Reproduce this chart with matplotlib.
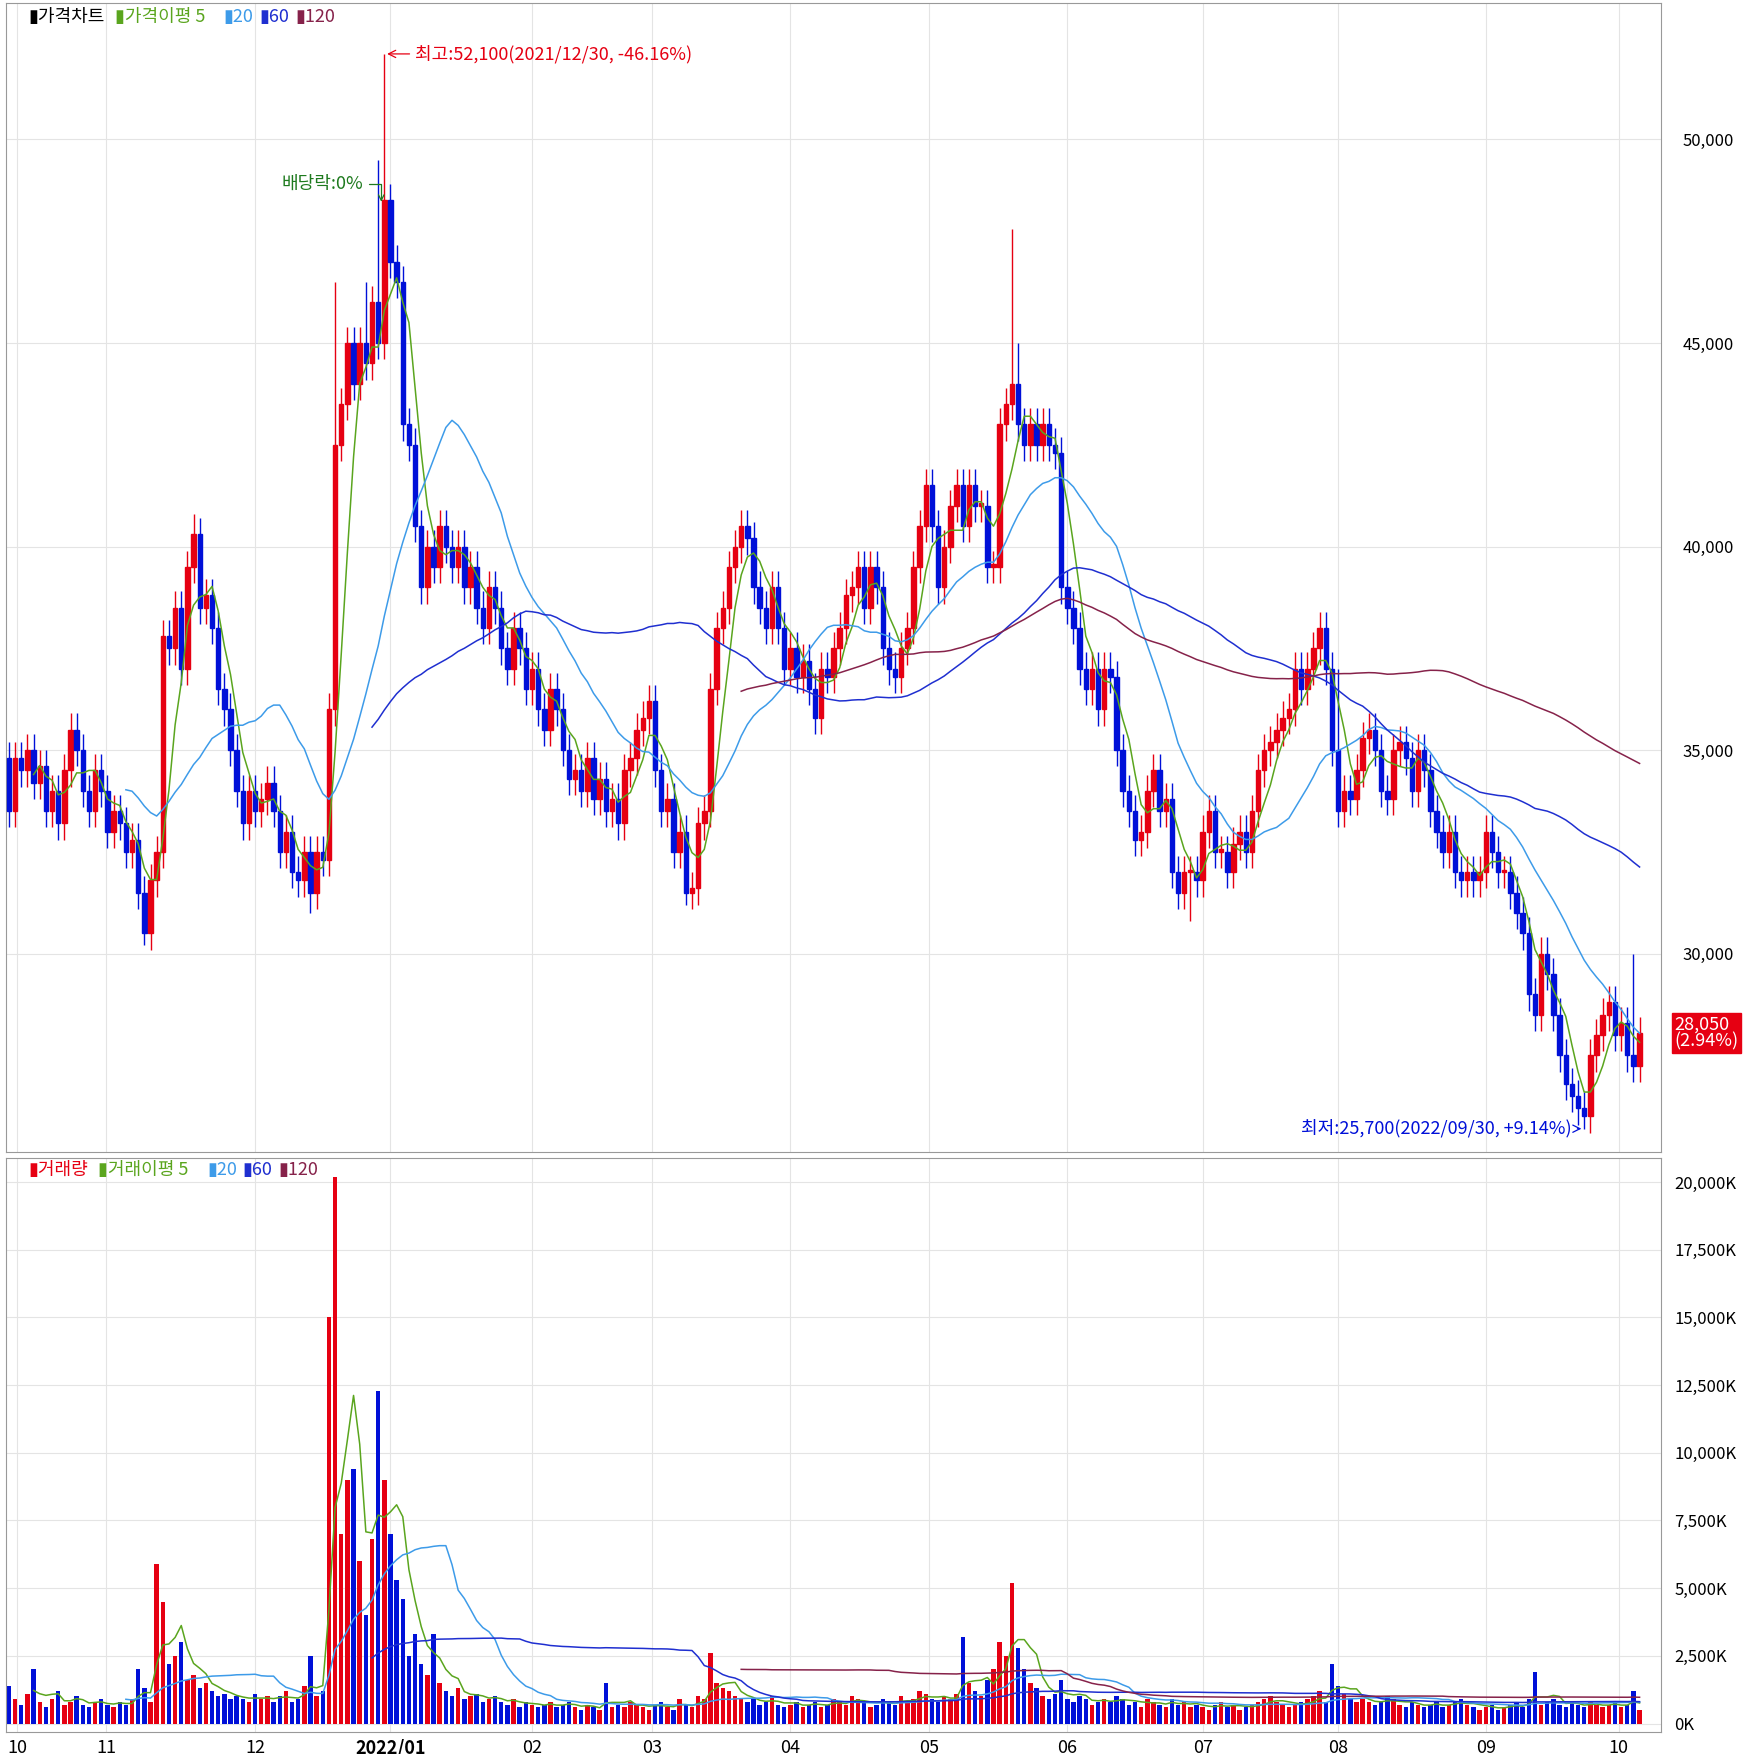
import numpy as np
import matplotlib
matplotlib.use('Agg')
import matplotlib.pyplot as plt
from matplotlib.patches import Rectangle

plt.rcParams['font.family'] = ['Noto Sans CJK KR', 'DejaVu Sans']

# daily closes (thousand won)
closes = [33.5, 34.8, 34.5, 35.0, 34.2, 34.6, 33.5, 34.0, 33.2, 34.5,
          35.5, 35.0, 34.0, 33.5, 34.5, 34.0, 33.0, 33.5, 33.2, 32.5,
          32.8, 31.5, 30.5, 31.8, 32.5, 37.8, 37.5, 38.5, 37.0, 39.5,
          40.3, 38.5, 38.8, 38.0, 36.5, 36.0, 35.0, 34.0, 33.2, 34.0,
          33.5, 33.8, 34.2, 33.5, 32.5, 33.0, 32.0, 31.8, 32.5, 31.5,
          32.5, 32.3, 36.0, 42.5, 43.5, 45.0, 44.0, 45.0, 44.5, 46.0,
          45.0, 48.5, 47.0, 46.5, 43.0, 42.5, 40.5, 39.0, 40.0, 39.5,
          40.5, 40.0, 39.5, 40.0, 39.0, 39.5, 38.5, 38.0, 39.0, 38.5,
          37.5, 37.0, 38.0, 37.5, 36.5, 37.0, 36.0, 35.5, 36.5, 36.0,
          35.0, 34.3, 34.5, 34.0, 34.8, 33.8, 34.3, 33.5, 33.8, 33.2,
          34.5, 34.8, 35.5, 35.8, 36.2, 34.5, 33.5, 33.8, 32.5, 33.0,
          31.5, 31.6, 33.2, 33.5, 36.5, 38.0, 38.5, 39.5, 40.0, 40.5,
          40.2, 39.0, 38.5, 38.0, 39.0, 38.0, 37.0, 37.5, 36.8, 37.2,
          36.5, 35.8, 37.0, 36.8, 37.5, 38.0, 38.8, 39.0, 39.5, 38.5,
          39.5, 39.0, 37.5, 37.0, 36.8, 37.5, 38.0, 39.5, 40.5, 41.5,
          40.5, 39.0, 40.0, 41.0, 41.5, 40.5, 41.5, 41.0, 41.0, 39.5,
          39.5, 43.0, 43.5, 44.0, 43.0, 42.5, 43.0, 42.5, 43.0, 42.5,
          42.3, 39.0, 38.5, 38.0, 37.0, 36.5, 37.0, 36.0, 37.0, 36.8,
          35.0, 34.0, 33.5, 32.8, 33.0, 34.0, 34.5, 33.5, 33.8, 32.0,
          31.5, 32.0, 32.0, 31.8, 33.0, 33.5, 32.5, 32.5, 32.0, 32.7,
          33.0, 32.5, 33.5, 34.5, 35.0, 35.2, 35.5, 35.8, 36.0, 37.0,
          36.5, 37.0, 37.5, 38.0, 37.0, 35.0, 33.5, 34.0, 33.8, 34.5,
          35.3, 35.5, 35.0, 34.0, 33.8, 35.0, 35.2, 34.8, 34.0, 35.0,
          34.5, 33.5, 33.0, 32.5, 33.0, 32.0, 31.8, 32.0, 31.8, 32.0,
          33.0, 32.5, 32.0, 32.0, 31.5, 31.0, 30.5, 29.0, 28.5, 30.0,
          29.5, 28.5, 27.5, 26.8, 26.5, 26.2, 26.0, 27.5, 28.0, 28.5,
          28.8, 28.0, 28.3, 27.5, 27.25, 28.05]
first_open = 34.8
# notable wick extremes (index: price)
highs_marked = {60: 49.5, 61: 52.1, 58: 46.5, 53: 46.5, 163: 47.8, 164: 45.0, 30: 40.8, 264: 30.0, 216: 37.0}
lows_marked = {22: 30.2, 110: 31.2, 192: 30.8, 256: 25.7, 49: 31.0}

volumes = [1400, 900, 700, 1100, 2000, 800, 600, 900, 1200, 700,
           800, 1000, 700, 600, 800, 900, 700, 600, 800, 700,
           900, 2000, 1300, 800, 5900, 4500, 2200, 2500, 3000, 1600,
           1800, 1300, 1500, 1200, 1000, 1100, 900, 1000, 900, 800,
           1100, 900, 1000, 800, 1000, 1200, 800, 900, 1400, 2500,
           1000, 1200, 15000, 20200, 7000, 9000, 9400, 6000, 4000, 6800,
           12300, 9000, 7000, 5300, 4600, 2500, 3300, 2200, 1800, 3300,
           1500, 1200, 1000, 1300, 900, 1000, 1100, 800, 900, 1000,
           800, 700, 900, 600, 800, 700, 600, 700, 800, 600,
           700, 800, 600, 500, 700, 600, 500, 1500, 600, 700,
           600, 800, 700, 600, 500, 700, 800, 600, 500, 900,
           700, 600, 1000, 900, 2600, 1500, 1300, 1200, 1000, 900,
           800, 900, 700, 800, 1000, 700, 600, 700, 800, 600,
           700, 800, 600, 700, 900, 800, 700, 1000, 900, 800,
           600, 700, 900, 800, 700, 1000, 800, 900, 1200, 1100,
           900, 800, 1000, 900, 1100, 3200, 1500, 1200, 1000, 1600,
           2000, 3000, 2500, 5200, 2800, 2000, 1500, 1300, 1000, 900,
           1100, 1600, 900, 800, 1000, 900, 700, 800, 900, 800,
           1000, 900, 700, 800, 600, 900, 800, 700, 600, 900,
           700, 800, 600, 700, 600, 500, 700, 800, 600, 700,
           500, 600, 700, 800, 900, 1000, 800, 700, 600, 700,
           800, 900, 1000, 1200, 800, 2200, 1400, 1100, 900, 800,
           900, 800, 700, 800, 1000, 900, 700, 600, 800, 700,
           600, 700, 800, 600, 700, 800, 900, 700, 600, 500,
           600, 700, 500, 600, 700, 800, 600, 900, 1900, 700,
           800, 900, 700, 600, 800, 700, 600, 800, 700, 600,
           700, 800, 600, 700, 1200, 500]

month_labels = ['10', '11', '12', '2022/01', '02', '03', '04', '05', '06', '07', '08', '09', '10']
month_idx = [1.3, 15.8, 40, 62, 85, 104.5, 127, 149.6, 172, 194, 216, 240, 261.6]
price_ticks = [30000, 35000, 40000, 45000, 50000]
vol_ticks = [0, 2500, 5000, 7500, 10000, 12500, 15000, 17500, 20000]

RED = '#e60012'
BLUE = '#0010d8'
C5, C20, C60, C120 = '#5aa51e', '#3d9be9', '#1f2fd0', '#86224a'

c = np.array(closes) * 1000
o = np.array([first_open] + closes[:-1]) * 1000
hi = np.maximum(o, c) + 400
lo = np.minimum(o, c) - 400
for k, v in highs_marked.items():
    hi[k] = v * 1000
for k, v in lows_marked.items():
    lo[k] = v * 1000
vol = np.array(volumes, dtype=float)
n = len(c)
x = np.arange(n)
up = c >= o

def ma(a, w):
    s = np.convolve(a, np.ones(w) / w, mode='valid')
    return np.arange(w - 1, len(a)), s

# layout measured on a 1560x1568 view of the reference
W, H = 1560, 1568
FS = 13
fig = plt.figure(figsize=(17.45, 17.54), dpi=100)
ax = fig.add_axes([5 / W, 1 - 1030 / H, 1480 / W, 1027 / H])
axv = fig.add_axes([5 / W, 1 - 1548 / H, 1480 / W, 513 / H])

xl = (-0.55, 268.5)
for a in (ax, axv):
    a.set_xlim(*xl)
    for m in month_idx:
        a.axvline(m, color='#e4e4e4', lw=0.8, zorder=0)
    a.set_xticks([])
    a.tick_params(axis='y', left=False, right=False, labelleft=False, labelright=True,
                  labelsize=12, pad=6)
    for s in a.spines.values():
        s.set_color('#999999')

# price panel
ax.set_ylim(25123, 53342)
for p in price_ticks:
    ax.axhline(p, color='#e4e4e4', lw=0.8, zorder=0)
ax.set_yticks(price_ticks)
ax.set_yticklabels([f'{p:,}' for p in price_ticks])
ax.tick_params(axis='y', pad=12)
for i in range(n):
    col = RED if up[i] else BLUE
    ax.vlines(i, lo[i], hi[i], color=col, lw=1, zorder=2)
    b = max(abs(c[i] - o[i]), 60)
    ax.add_patch(Rectangle((i - 0.36, min(o[i], c[i])), 0.72, b, color=col, zorder=3))
for w, col in [(5, C5), (20, C20), (60, C60), (120, C120)]:
    xi, yi = ma(c, w)
    ax.plot(xi, yi, color=col, lw=1.1, zorder=4)

fig.text(25 / W, 1 - 15 / H, '▮가격차트', fontsize=FS, va='center', color='black')
fig.text(103 / W, 1 - 15 / H, '▮가격이평 5', fontsize=FS, va='center', color=C5)
fig.text(200 / W, 1 - 15 / H, '▮20', fontsize=FS, va='center', color=C20)
fig.text(232 / W, 1 - 15 / H, '▮60', fontsize=FS, va='center', color=C60)
fig.text(264 / W, 1 - 15 / H, '▮120', fontsize=FS, va='center', color=C120)

ax.annotate('최고:52,100(2021/12/30, -46.16%)', xy=(61, 52100), xytext=(66, 52100),
            color=RED, fontsize=FS, va='center',
            arrowprops=dict(arrowstyle='->', color=RED, lw=0.9))
ax.text(57.5, 48900, '배당락:0%', color='#1e7a1e', fontsize=FS, va='center', ha='right')
ax.annotate('', xy=(60.5, 48400), xytext=(58, 48900),
            arrowprops=dict(arrowstyle='->', color='#1e7a1e', lw=0.9,
                            connectionstyle='angle,angleA=0,angleB=90'))
ax.annotate('최저:25,700(2022/09/30, +9.14%)', xy=(256, 25700), xytext=(254, 25700),
            color=BLUE, fontsize=FS, va='center', ha='right',
            arrowprops=dict(arrowstyle='->', color=BLUE, lw=0.9))
ax.text(1.008, (c[-1] - 25123) / (53342 - 25123), f'{c[-1]:,.0f}\n({(c[-1] / c[-2] - 1) * 100:.2f}%)',
        transform=ax.transAxes, color='white', fontsize=FS, va='center', ha='left',
        linespacing=0.95, bbox=dict(boxstyle='square,pad=0.15', fc=RED, ec=RED))

# volume panel
axv.set_ylim(-300, 20900)
for v in vol_ticks:
    axv.axhline(v, color='#e4e4e4', lw=0.8, zorder=0)
axv.set_yticks(vol_ticks)
axv.set_yticklabels([f'{v:,}K' for v in vol_ticks])
axv.bar(x, vol, width=0.72, color=[RED if u else BLUE for u in up], zorder=2)
for w, col in [(5, C5), (20, C20), (60, C60), (120, C120)]:
    xi, yi = ma(vol, w)
    axv.plot(xi, yi, color=col, lw=1.1, zorder=4)
fig.text(25 / W, 1 - 1046 / H, '▮거래량', fontsize=FS, va='center', color=RED)
fig.text(88 / W, 1 - 1046 / H, '▮거래이평 5', fontsize=FS, va='center', color=C5)
fig.text(185 / W, 1 - 1046 / H, '▮20', fontsize=FS, va='center', color=C20)
fig.text(217 / W, 1 - 1046 / H, '▮60', fontsize=FS, va='center', color=C60)
fig.text(249 / W, 1 - 1046 / H, '▮120', fontsize=FS, va='center', color=C120)

for m, lab in zip(month_idx, month_labels):
    axv.text(m, -0.012, lab, transform=axv.get_xaxis_transform(), ha='center', va='top',
             fontsize=FS, fontweight='bold' if '/' in lab else 'normal')

fig.savefig('out.png', dpi=100, facecolor='white')
